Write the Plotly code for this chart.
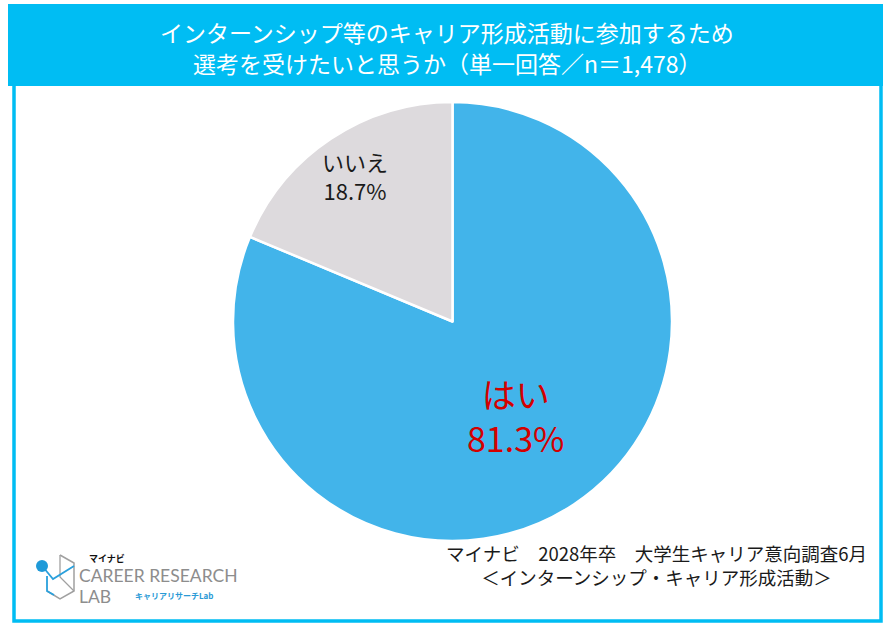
import math
import plotly.graph_objects as go

labels = ["はい", "いいえ"]
values = [81.3, 18.7]
colors = ["#42b4ea", "#dddadd"]
label_colors = ["#d40000", "#1a1a1a"]
label_sizes = [34, 22]
label_radius = [0.515, 0.80]   # radial position of each label, fraction of radius

title_lines = ["インターンシップ等のキャリア形成活動に参加するため",
               "選考を受けたいと思うか（単一回答／n＝1,478）"]
source_lines = ["マイナビ　2028年卒　大学生キャリア意向調査6月",
                "＜インターンシップ・キャリア形成活動＞"]

W, H = 894, 630
FONT = "Noto Sans CJK JP"

def px(x):
    return x / W

def py(y):
    return 1 - y / H

# pie geometry (pixels)
PX0, PX1, PY0, PY1 = 233, 672, 102, 541
CX, CY = (PX0 + PX1) / 2, (PY0 + PY1) / 2
R = min(PX1 - PX0, PY1 - PY0) / 2

fig = go.Figure()
fig.add_trace(go.Pie(
    labels=labels,
    values=values,
    sort=False,
    direction="clockwise",
    rotation=0,
    marker=dict(colors=colors, line=dict(color="white", width=2.5)),
    textinfo="none",
    showlegend=False,
    hoverinfo="skip",
    domain=dict(x=[px(PX0), px(PX1)], y=[py(PY1), py(PY0)]),
))

# slice labels, placed on each slice's mid-angle
annotations = []
total = sum(values)
cum = 0.0
for lab, v, col, sz, rf in zip(labels, values, label_colors, label_sizes, label_radius):
    mid = (cum + v / 2) / total * 2 * math.pi
    cum += v
    lx = CX + rf * R * math.sin(mid)
    ly = CY - rf * R * math.cos(mid)
    annotations.append(dict(
        text=f"{lab}<br>{v / total * 100:.1f}%", x=px(lx), y=py(ly),
        xref="paper", yref="paper", showarrow=False,
        font=dict(family=FONT, size=sz, color=col),
        align="center", xanchor="center", yanchor="middle"))

shapes = [
    dict(type="rect", xref="paper", yref="paper",
         x0=px(14), x1=px(881), y0=py(621), y1=py(84),
         line=dict(color="#00bdf3", width=3.5), fillcolor="white", layer="below"),
    dict(type="rect", xref="paper", yref="paper",
         x0=px(8), x1=px(883), y0=py(86), y1=py(4),
         line=dict(width=0), fillcolor="#00bdf3", layer="below"),
    # logo icon (cube)
    dict(type="path", xref="paper", yref="paper",
         path=f"M {px(60)},{py(555)} L {px(74)},{py(563)} L {px(74)},{py(591)} "
              f"L {px(60)},{py(599)} L {px(47)},{py(591)}",
         line=dict(color="#a0a0a0", width=1.5)),
    dict(type="path", xref="paper", yref="paper",
         path=f"M {px(60)},{py(555)} L {px(60)},{py(577)} L {px(74)},{py(591)}",
         line=dict(color="#a0a0a0", width=1.3)),
    dict(type="path", xref="paper", yref="paper",
         path=f"M {px(43)},{py(567)} L {px(53)},{py(579)} L {px(74)},{py(566)}",
         line=dict(color="#2aa0dc", width=1.8)),
    dict(type="path", xref="paper", yref="paper",
         path=f"M {px(47)},{py(576)} L {px(47)},{py(591)} L {px(54)},{py(595)}",
         line=dict(color="#2aa0dc", width=1.8)),
    dict(type="circle", xref="paper", yref="paper",
         x0=px(36), x1=px(48), y0=py(572), y1=py(560),
         line=dict(width=0), fillcolor="#1f9ad8"),
]

annotations += [
    dict(text=title_lines[0], x=px(447), y=py(32), xref="paper", yref="paper",
         showarrow=False, font=dict(family=FONT, size=23, color="white"),
         align="center", xanchor="center", yanchor="middle"),
    dict(text=title_lines[1], x=px(447), y=py(63), xref="paper", yref="paper",
         showarrow=False, font=dict(family=FONT, size=23, color="white"),
         align="center", xanchor="center", yanchor="middle"),
    dict(text="<br>".join(source_lines), x=px(656), y=py(565), xref="paper", yref="paper",
         showarrow=False, font=dict(family=FONT, size=18.5, color="#1a1a1a"),
         align="center", xanchor="center", yanchor="middle"),
    dict(text="<b>マイナビ</b>", x=px(87), y=py(558), xref="paper", yref="paper",
         showarrow=False, font=dict(family=FONT, size=9, color="#111"),
         xanchor="left", yanchor="middle"),
    dict(text="CAREER RESEARCH", x=px(77), y=py(575), xref="paper", yref="paper",
         showarrow=False, font=dict(family="Lato", size=17.5, color="#8d8d8d"),
         xanchor="left", yanchor="middle"),
    dict(text="LAB", x=px(77), y=py(596), xref="paper", yref="paper",
         showarrow=False, font=dict(family="Lato", size=17.5, color="#8d8d8d"),
         xanchor="left", yanchor="middle"),
    dict(text="<b>キャリアリサーチLab</b>", x=px(133), y=py(595), xref="paper", yref="paper",
         showarrow=False, font=dict(family=FONT, size=8, color="#2a9ad6"),
         xanchor="left", yanchor="middle"),
]

fig.update_layout(
    width=W, height=H,
    margin=dict(l=0, r=0, t=0, b=0),
    paper_bgcolor="white",
    plot_bgcolor="white",
    shapes=shapes,
    annotations=annotations,
    font=dict(family=FONT),
)

fig.write_html("out.html")
